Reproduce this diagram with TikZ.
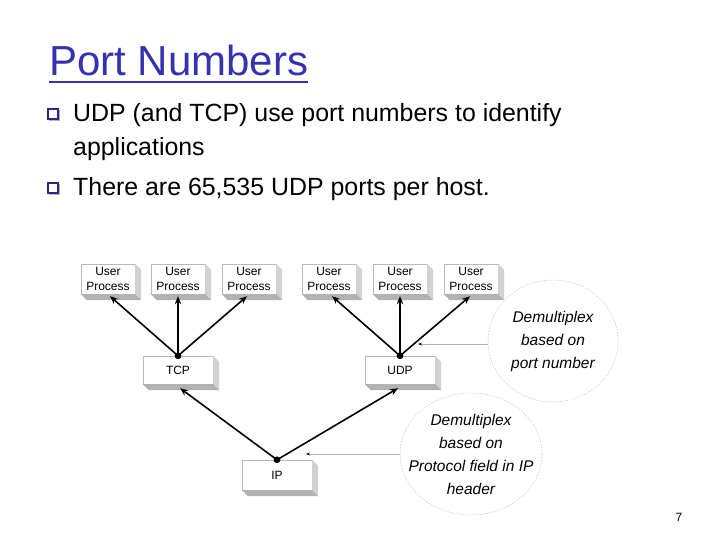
\documentclass[tikz,border=0pt]{standalone}
\usepackage{fontspec}
\setmainfont{Liberation Sans}
\usetikzlibrary{calc,arrows.meta,shapes.geometric}
\definecolor{titleblue}{RGB}{51,51,175}
\definecolor{bulletblue}{RGB}{40,40,130}
\begin{document}
\begin{tikzpicture}[x=1pt,y=-1pt,
  procbox/.style={draw=gray!55,line width=0.4pt,fill=white,inner sep=0pt,align=center,
     font=\fontsize{12}{15}\selectfont},
  arr/.style={line width=1.6pt,-{Stealth[length=8pt,width=6.5pt]}},
  thin arr/.style={draw=gray!60,line width=0.8pt,-{Stealth[length=4pt,width=3pt,color=black]}},
  bubbleline/.style={draw=gray!45,line width=0.5pt,dash pattern=on 1.5pt off 1.5pt},
  bubble/.style={align=center,font=\fontsize{15.5}{23}\selectfont\itshape,inner sep=0pt},
  bullettext/.style={anchor=base west,inner sep=0pt,font=\fontsize{24.9}{30}\selectfont},
  bulletsq/.style={draw=bulletblue,line width=1.2pt,minimum size=10pt,inner sep=0pt}
]
\useasboundingbox (0,0) rectangle (720,540);
\fill[white] (0,0) rectangle (720,540);

% title
\node[anchor=base west,inner sep=0pt,text=titleblue,font=\fontsize{42}{48}\selectfont] (title) at (49,76) {Port Numbers};
\draw[titleblue,line width=2.4pt] ($(title.base west)+(0,6)$) -- ($(title.base east)+(0,6)$);

% bullets
\node[bulletsq] (b1) at (53,114) {};
\node[bulletsq] (b2) at (53,188) {};
\draw[gray!60,line width=1pt] ($(b1.north east)+(1.3,1.5)$) -- ($(b1.south east)+(1.3,1.3)$) -- ($(b1.south west)+(1.5,1.3)$);
\draw[gray!60,line width=1pt] ($(b2.north east)+(1.3,1.5)$) -- ($(b2.south east)+(1.3,1.3)$) -- ($(b2.south west)+(1.5,1.3)$);
\node[bullettext] (t1) at (73,122) {UDP (and TCP) use port numbers to identify};
\node[bullettext] (t2) at (73,156) {applications};
\node[bullettext] (t3) at (73,196) {There are 65,535 UDP ports per host.};

% boxes
\foreach \n/\x in {u1/108,u2/178,u3/249,u4/329,u5/400,u6/471}{
  \node[procbox,minimum width=54pt,minimum height=30pt] (\n) at (\x,279) {User\\Process};
}
\node[procbox,minimum width=70pt,minimum height=28pt] (tcp) at (178,370) {TCP};
\node[procbox,minimum width=70pt,minimum height=28pt] (udp) at (400,370) {UDP};
\node[procbox,minimum width=70pt,minimum height=30pt] (ip) at (277,475) {IP};

% 3D shading
\foreach \n in {u1,u2,u3,u4,u5,u6,tcp,udp,ip}{
  \fill[gray!35] (\n.north east) -- ++(6,6) -- ($(\n.south east)+(6,6)$) -- (\n.south east) -- cycle;
  \fill[gray!60] (\n.south west) -- ++(6,6) -- ($(\n.south east)+(6,6)$) -- (\n.south east) -- cycle;
}

% junctions and arrows
\fill (tcp.north) circle (3.4pt);
\fill (udp.north) circle (3.4pt);
\fill (ip.north) circle (3.4pt);
\draw[arr] (tcp.north) -- ($(u1.south)+(2,2)$);
\draw[arr] (tcp.north) -- ($(u2.south)+(0,2)$);
\draw[arr] (tcp.north) -- ($(u3.south)+(-2,2)$);
\draw[arr] (udp.north) -- ($(u4.south)+(3,2)$);
\draw[arr] (udp.north) -- ($(u5.south)+(0,2)$);
\draw[arr] (udp.north) -- ($(u6.south)+(-1,2)$);
\draw[arr] (ip.north) -- ($(tcp.south)+(2,4)$);
\draw[arr] (ip.north) -- ($(udp.south)+(-2,4)$);

% bubbles
\node[bubble] (d1) at (553,341) {Demultiplex\\based on\\port number};
\node[bubble] (d2) at (471,454) {Demultiplex\\based on\\Protocol field in IP\\header};
\draw[bubbleline] (d1.center) ellipse [x radius=65, y radius=61];
\draw[bubbleline] (d2.center) ellipse [x radius=71, y radius=61];
\coordinate (d1w) at ($(d1.center)+(-65,3)$);
\coordinate (d2w) at ($(d2.center)+(-71,0)$);
\coordinate (c1) at (418,344);
\coordinate (c2) at (306,454);
\draw[thin arr] (d1w) -- (c1);
\draw[thin arr] (d2w) -- (c2);

% page number
\node[anchor=base,inner sep=0pt,font=\fontsize{12}{14}\selectfont] (pg) at (679,521) {7};
\end{tikzpicture}
\end{document}
